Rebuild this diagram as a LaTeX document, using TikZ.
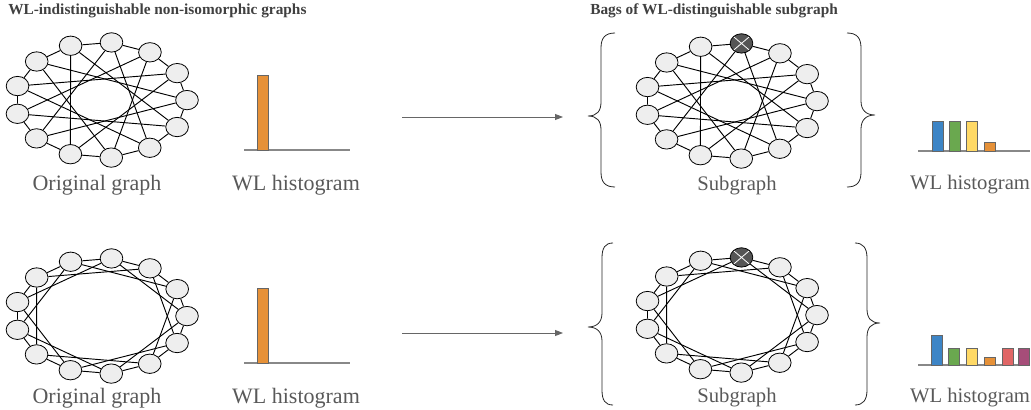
\documentclass[tikz,border=0pt]{standalone}
\usepackage{fontspec}
\setmainfont{Liberation Serif}
\newfontfamily\lblfont{Liberation Serif}
\usetikzlibrary{arrows.meta,shapes.geometric}
\pgfdeclarelayer{bg}
\pgfsetlayers{bg,main}
\definecolor{nodefill}{HTML}{EEEEEE}
\definecolor{xfill}{HTML}{555555}
\definecolor{labelgray}{HTML}{595959}
\definecolor{titlegray}{HTML}{404040}
\definecolor{barline}{HTML}{666666}
\definecolor{axisgray}{HTML}{888888}
\definecolor{arrowgray}{HTML}{666666}
\definecolor{cblue}{HTML}{3D85C6}
\definecolor{cgreen}{HTML}{6AA84F}
\definecolor{cyellow}{HTML}{FFD966}
\definecolor{corange}{HTML}{E69138}
\definecolor{cred}{HTML}{E06666}
\definecolor{cpurple}{HTML}{A64D79}

\newcommand{\mygraph}[5]{%
  \foreach \k in {0,...,12}{%
    \pgfmathsetmacro\th{83-\k*360/13}%
    \ifnum\k=0
      \node[#5] (#1-\k) at ({#2+86*cos(\th)},{#3-58*sin(\th)}) {};
    \else
      \node[gnode] (#1-\k) at ({#2+86*cos(\th)},{#3-58*sin(\th)}) {};
    \fi
  }%
  \begin{pgfonlayer}{bg}
  \foreach \k in {0,...,12}{%
    \pgfmathtruncatemacro\na{mod(\k+1,13)}%
    \pgfmathtruncatemacro\nb{mod(\k+#4,13)}%
    \draw[edge] (#1-\k) -- (#1-\na);
    \draw[edge] (#1-\k) -- (#1-\nb);
  }%
  \end{pgfonlayer}
}

\begin{document}
\begin{tikzpicture}[x=0.75pt,y=-0.75pt,
  gnode/.style={ellipse, draw=black, fill=nodefill, line width=0.6pt,
    minimum width=17pt, minimum height=14.5pt, inner sep=0pt},
  xnode/.style={gnode, fill=xfill,
    path picture={\draw[white, line width=0.6pt]
      (path picture bounding box.north west) -- (path picture bounding box.south east)
      (path picture bounding box.north east) -- (path picture bounding box.south west);}},
  edge/.style={draw=black, line width=0.7pt},
  lbl/.style={text=labelgray, font=\lblfont\fontsize{16.5}{19}\selectfont, inner sep=0pt},
  lblsmall/.style={lbl, font=\lblfont\fontsize{15.5}{18}\selectfont},
  ttl/.style={text=titlegray, font=\rmfamily\fontsize{11.5}{14}\selectfont\bfseries, inner sep=0pt, anchor=west},
  bar/.style={draw=barline, line width=0.6pt},
  axisline/.style={draw=axisgray, line width=0.8pt},
  flow/.style={draw=arrowgray, line width=0.7pt, -{Triangle[length=6pt,width=4.5pt]}},
  bracestyle/.style={draw=black!85, line width=0.6pt}
]
\useasboundingbox (0,0) rectangle (1031,410);

% titles
\node[ttl] (t1) at (8,11) {WL-indistinguishable non-isomorphic graphs};
\node[ttl] (t2) at (590,11) {Bags of WL-distinguishable subgraph};

% graphs
\mygraph{ga}{101}{100}{5}{gnode}
\mygraph{gb}{101}{316}{3}{gnode}
\mygraph{sa}{731}{101}{5}{xnode}
\mygraph{sb}{731}{315}{3}{xnode}

% labels
\node[lbl] (l1) at (97,185) {Original graph};
\node[lbl] (l2) at (296,185) {WL histogram};
\node[lblsmall] (l3) at (737,186) {Subgraph};
\node[lblsmall] (l4) at (970,185) {WL histogram};
\node[lbl] (l5) at (97,398) {Original graph};
\node[lbl] (l6) at (296,398) {WL histogram};
\node[lblsmall] (l7) at (737,398) {Subgraph};
\node[lblsmall] (l8) at (970,398) {WL histogram};

% arrows
\coordinate (a1s) at (402,117);
\coordinate (a1e) at (563,117);
\coordinate (a2s) at (402,333);
\coordinate (a2e) at (563,333);
\draw[flow] (a1s) -- (a1e);
\draw[flow] (a2s) -- (a2e);

% braces
\draw[bracestyle] (615,33) .. controls (605,33) and (601,38) .. (601,48) -- (601,102)
  .. controls (601,111) and (597,116) .. (588,116)
  .. controls (597,116) and (601,121) .. (601,130) -- (601,172)
  .. controls (601,182) and (605,187) .. (615,187);
\draw[bracestyle] (847,33) .. controls (857,33) and (861,38) .. (861,48) -- (861,101)
  .. controls (861,110) and (866,115) .. (875,115)
  .. controls (866,115) and (861,120) .. (861,129) -- (861,172)
  .. controls (861,182) and (857,187) .. (847,187);
\draw[bracestyle] (613,243) .. controls (605,243) and (602,248) .. (602,258) -- (602,313)
  .. controls (602,322) and (597,327) .. (588,327)
  .. controls (597,327) and (602,332) .. (602,341) -- (602,390)
  .. controls (602,400) and (605,405) .. (613,405);
\draw[bracestyle] (855,243) .. controls (863,243) and (867,248) .. (867,258) -- (867,309)
  .. controls (867,318) and (871,323) .. (880,323)
  .. controls (871,323) and (867,328) .. (867,337) -- (867,390)
  .. controls (867,400) and (863,405) .. (855,405);

% histograms left
\draw[axisline] (244,150) -- (350,150);
\draw[bar, fill=corange] (257,75) rectangle (268,150);
\draw[axisline] (244,363) -- (350,363);
\draw[bar, fill=corange] (257,288) rectangle (268,363);

% histogram right top
\draw[axisline] (918,151) -- (1030,151);
\draw[bar, fill=cblue] (932,121) rectangle (943,151);
\draw[bar, fill=cgreen] (949,121) rectangle (960,151);
\draw[bar, fill=cyellow] (966,121) rectangle (977,151);
\draw[bar, fill=corange] (984,142) rectangle (995,151);

% histogram right bottom
\draw[axisline] (918,365) -- (1030,365);
\draw[bar, fill=cblue] (931,335) rectangle (942,365);
\draw[bar, fill=cgreen] (948,348) rectangle (959,365);
\draw[bar, fill=cyellow] (966,348) rectangle (977,365);
\draw[bar, fill=corange] (984,357) rectangle (995,365);
\draw[bar, fill=cred] (1002,348) rectangle (1013,365);
\draw[bar, fill=cpurple] (1018,348) rectangle (1029,365);
\end{tikzpicture}
\end{document}
